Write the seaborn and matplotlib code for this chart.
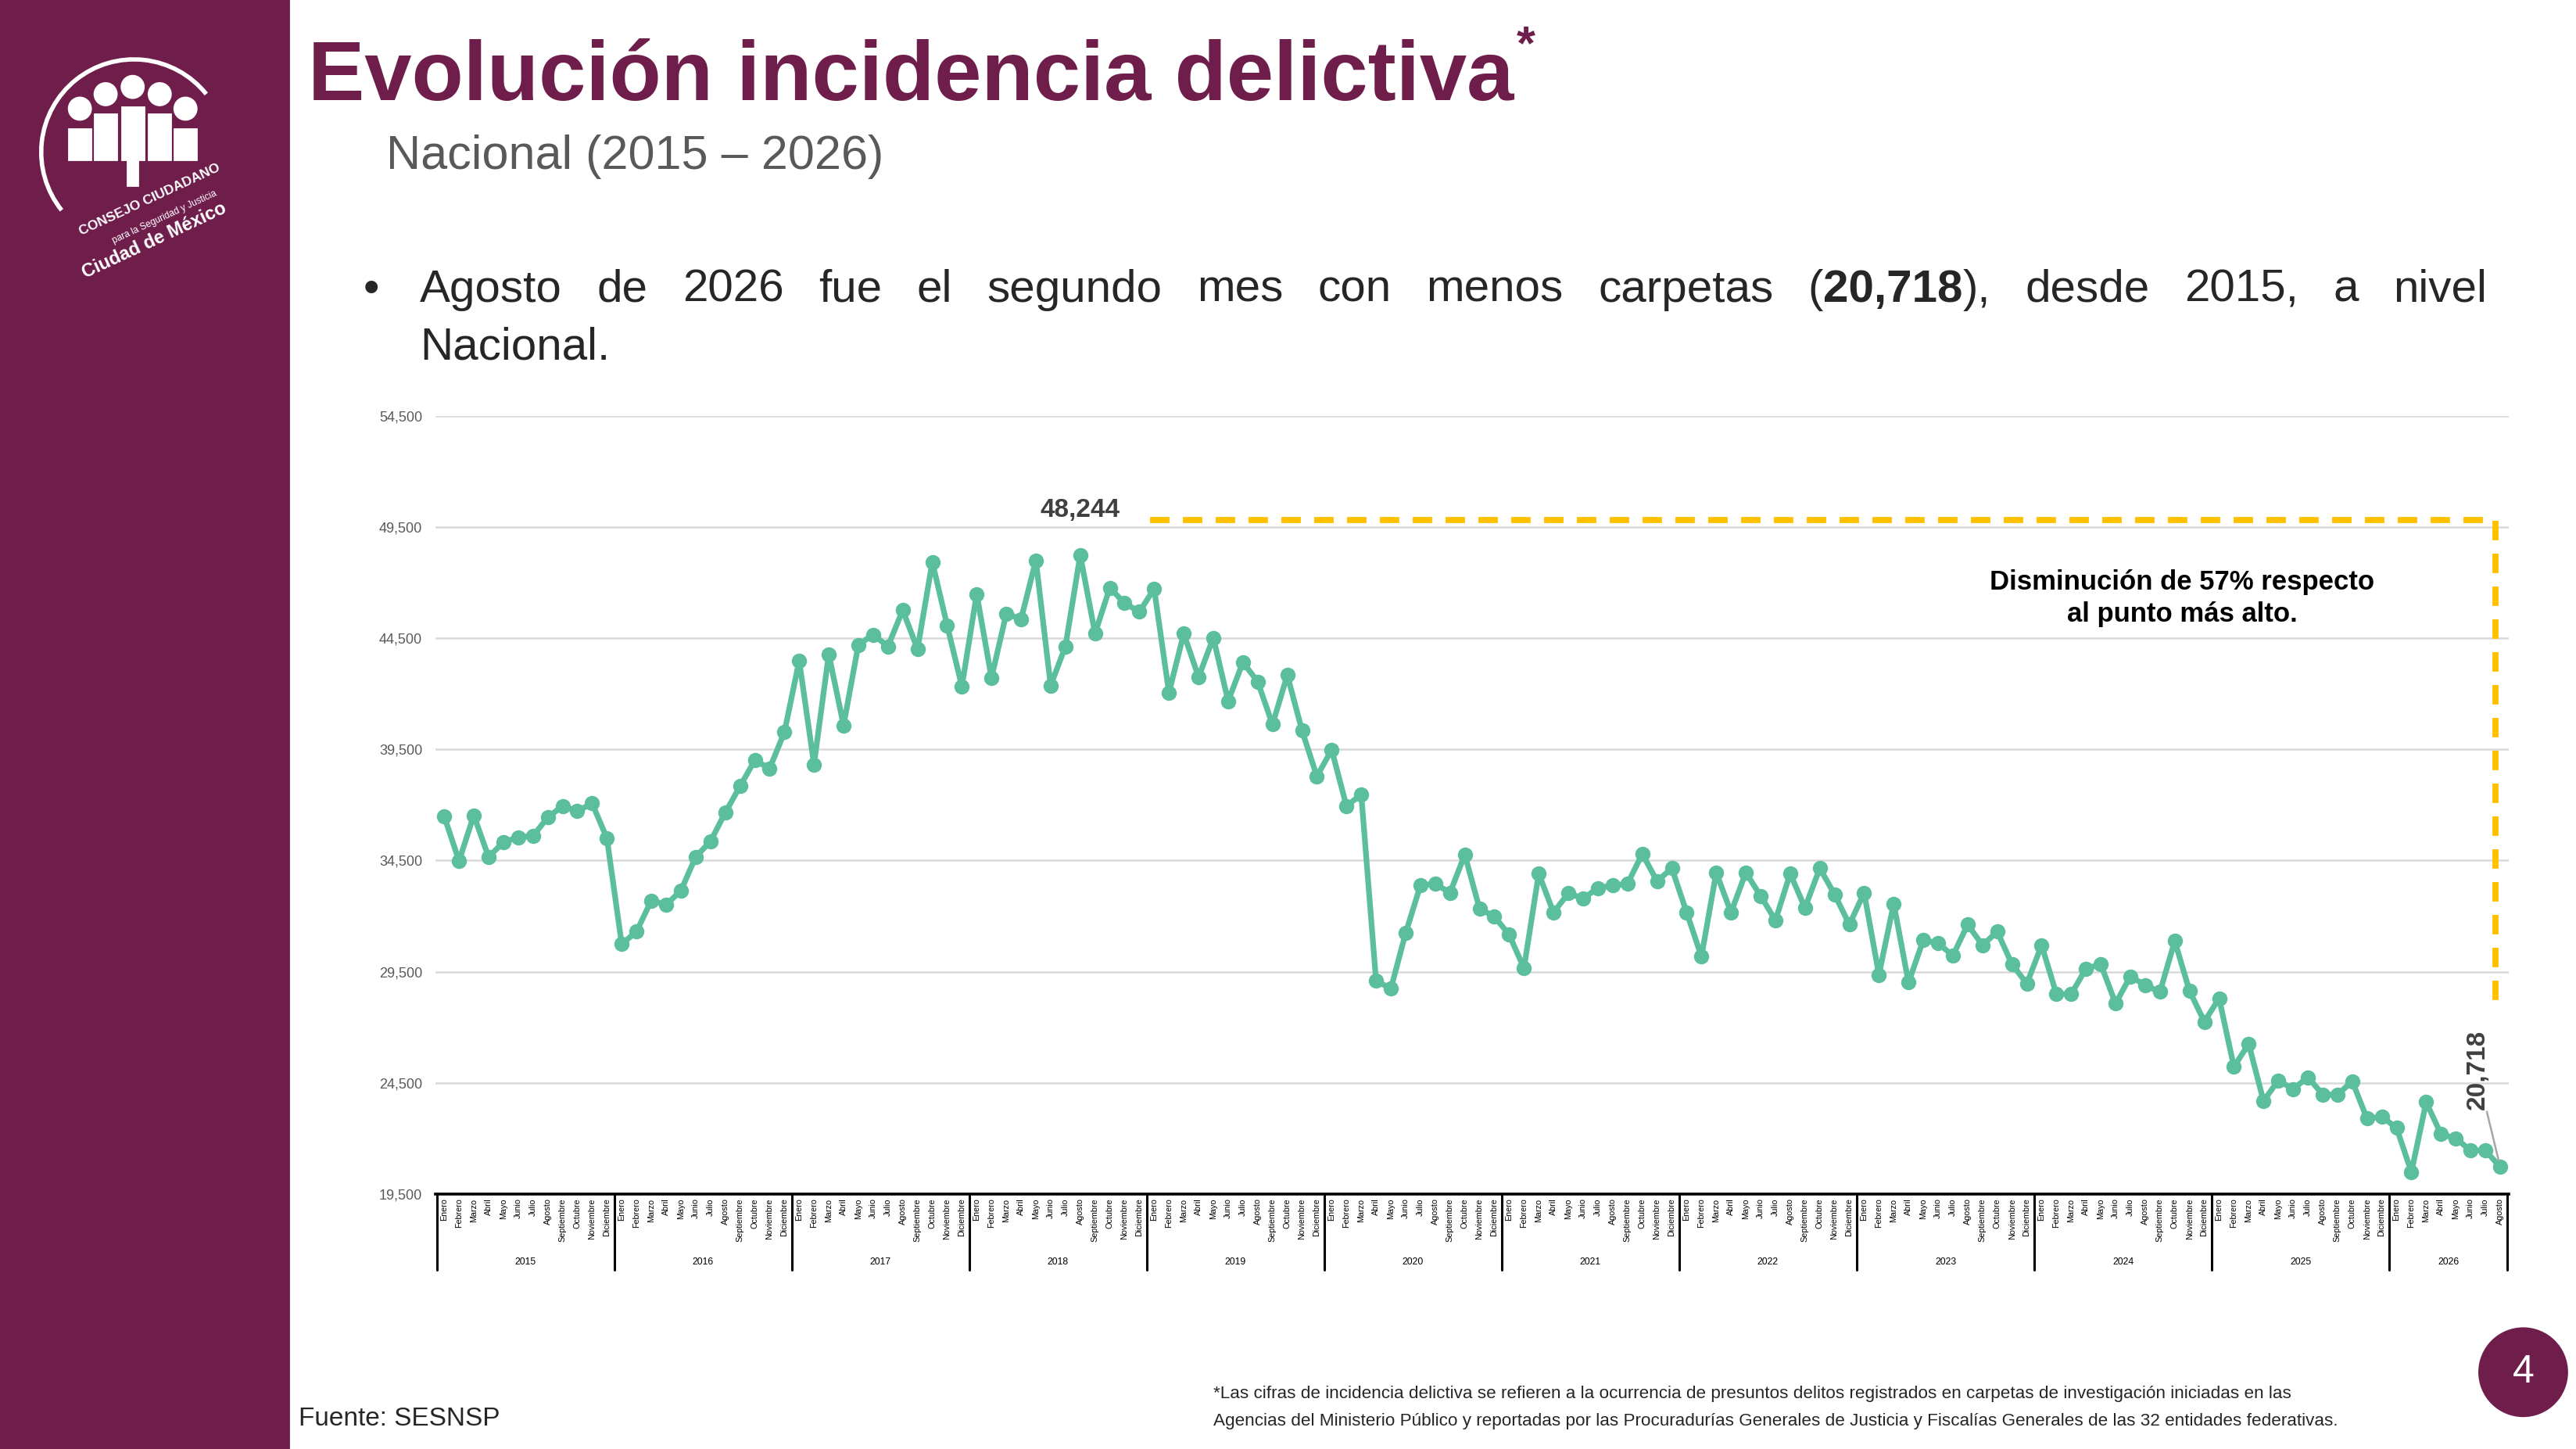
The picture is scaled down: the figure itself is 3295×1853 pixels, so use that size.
import numpy as np
import pandas as pd
import seaborn as sns
import matplotlib.pyplot as plt
from matplotlib.patches import Rectangle, Ellipse, Arc
import matplotlib.transforms as mtransforms

years = list(range(2015, 2027))
months = ["Enero", "Febrero", "Marzo", "Abril", "Mayo", "Junio", "Julio", "Agosto",
          "Septiembre", "Octubre", "Noviembre", "Diciembre"]

carpetas = [
    # 2015
    36490, 34480, 36530, 34660, 35320, 35550, 35600, 36440, 36950, 36720, 37070, 35500,
    # 2016
    30740, 31300, 32700, 32510, 33140, 34660, 35360, 36650, 37840, 39010, 38640, 40270,
    # 2017
    43490, 38820, 43780, 40580, 44200, 44660, 44130, 45760, 44010, 47930, 45080, 42330,
    # 2018
    46490, 42720, 45600, 45360, 48000, 42370, 44130, 48244, 44710, 46770, 46070, 45690,
    # 2019
    46720, 42050, 44710, 42750, 44520, 41670, 43420, 42540, 40620, 42840, 40340, 38280,
    # 2020
    39480, 36950, 37470, 29100, 28730, 31230, 33380, 33450, 33050, 34760, 32330, 31980,
    # 2021
    31160, 29660, 33910, 32160, 33030, 32790, 33260, 33380, 33450, 34800, 33570, 34150,
    # 2022
    32160, 30180, 33960, 32160, 33960, 32910, 31810, 33910, 32370, 34150, 32980, 31620,
    # 2023
    33050, 29360, 32560, 29010, 30920, 30780, 30220, 31620, 30690, 31300, 29830, 28960,
    # 2024
    30690, 28490, 28490, 29640, 29830, 28070, 29290, 28890, 28590, 30880, 28630, 27250,
    # 2025
    28300, 25220, 26250, 23680, 24610, 24220, 24750, 23980, 23960, 24570, 22890, 22980,
    # 2026
    22470, 20480, 23630, 22190, 22000, 21460, 21460, 20718,
]

n = len(carpetas)
df = pd.DataFrame({
    "idx": np.arange(n),
    "mes": [months[i % 12] for i in range(n)],
    "anio": [years[i // 12] for i in range(n)],
    "carpetas": carpetas,
})

PURPLE = "#6F1D4B"
GREEN = "#5BBE9C"
YELLOW = "#FFC000"
ASPECT = 16.475 / 9.265

sns.set_theme(style="white")
plt.rcParams['font.family'] = ['Liberation Sans', 'DejaVu Sans']

fig = plt.figure(figsize=(16.475, 9.265), dpi=200)
fig.patches.append(Rectangle((0, 0), 0.112, 1, transform=fig.transFigure, color=PURPLE, zorder=0))

ax = fig.add_axes([0.169, 0.176, 0.805, 0.537])
sns.lineplot(data=df, x="idx", y="carpetas", ax=ax, color=GREEN, lw=2.6,
             marker="o", markersize=7, markeredgewidth=0)

ax.set_ylim(19500, 54500)
ax.set_yticks(np.arange(19500, 54501, 5000))
ax.set_yticklabels([f"{v:,}" for v in range(19500, 54501, 5000)], fontsize=6.5, color="#595959")
ax.set_xlim(-0.6, n - 0.4)
ax.set_xticks(df["idx"])
ax.set_xticklabels(df["mes"], rotation=90, fontsize=3.9, color="black")
ax.tick_params(axis="x", length=0, pad=2)
ax.tick_params(axis="y", length=0, pad=6)
ax.grid(axis="y", color="#D9D9D9", lw=0.9)
ax.set_axisbelow(True)
for s in ["top", "right", "left"]:
    ax.spines[s].set_visible(False)
ax.spines["bottom"].set_color("black")
ax.spines["bottom"].set_linewidth(1.3)
ax.set_xlabel("")
ax.set_ylabel("")

# year separators and labels under the axis
trans = mtransforms.blended_transform_factory(ax.transData, ax.transAxes)
for k, yr in enumerate(years):
    start = k * 12 - 0.5
    end = min((k + 1) * 12, n) - 0.5
    ax.plot([start, start], [0, -0.098], transform=trans, color="black", lw=1.1, clip_on=False)
    ax.text((start + end) / 2, -0.088, str(yr), transform=trans, ha="center", va="center",
            fontsize=4.4, color="black")
ax.plot([n - 0.5, n - 0.5], [0, -0.098], transform=trans, color="black", lw=1.1, clip_on=False)

# highest point / last point annotations
peak_i = int(np.argmax(carpetas))
ax.text(peak_i, 49700, f"{carpetas[peak_i]:,}", ha="center", va="bottom", fontsize=12,
        fontweight="bold", color="#404040")
last_i = n - 1
ax.plot([last_i - 0.9, last_i - 0.1], [23200, 21000], color="#A6A6A6", lw=0.9)
ax.text(last_i - 1.5, 23300, f"{carpetas[last_i]:,}", rotation=90, ha="center", va="bottom",
        fontsize=12, fontweight="bold", color="#404040")

# dashed bracket from the peak level to the latest month
ax.plot([47.7, last_i - 0.3, last_i - 0.3], [49800, 49800, 28000], color=YELLOW, lw=2.8,
        ls=(0, (3.2, 2.2)), clip_on=False)
ax.text(117.5, 46300, "Disminución de 57% respecto\nal punto más alto.", ha="center", va="center",
        fontsize=12.5, fontweight="bold", color="black", linespacing=1.3)

fig.canvas.draw()
r = fig.canvas.get_renderer()
inv = fig.transFigure.inverted()

def right_edge(t):
    return inv.transform(t.get_window_extent(r))[1, 0]

# header
title = fig.text(0.1195, 0.946, "Evolución incidencia delictiva", fontsize=39, fontweight="bold",
                 color=PURPLE, va="center", ha="left")
fig.text(right_edge(title) + 0.001, 0.968, "*", fontsize=22, fontweight="bold", color=PURPLE,
         va="center")
fig.text(0.150, 0.892, "Nacional (2015 – 2026)", fontsize=22, color="#595959", va="center")

# justified bullet line with bold number
fig.text(0.141, 0.800, "•", fontsize=21, va="center")
y1 = 0.800
words = [("Agosto", "normal"), ("de", "normal"), ("2026", "normal"), ("fue", "normal"),
         ("el", "normal"), ("segundo", "normal"), ("mes", "normal"), ("con", "normal"),
         ("menos", "normal"), ("carpetas", "normal"), ("(", "normal"), ("20,718", "bold"),
         ("),", "normal"), ("desde", "normal"), ("2015,", "normal"), ("a", "normal"),
         ("nivel", "normal")]
groups = [[0], [1], [2], [3], [4], [5], [6], [7], [8], [9], [10, 11, 12], [13], [14], [15], [16]]
x_left, x_right = 0.163, 0.9655
widths = []
for g in groups:
    w = 0
    for i in g:
        t = fig.text(0, 0, words[i][0], fontsize=21, fontweight=words[i][1])
        bb = inv.transform(t.get_window_extent(r))
        w += bb[1, 0] - bb[0, 0]
        t.remove()
    widths.append(w)
gap = (x_right - x_left - sum(widths)) / (len(groups) - 1)
x = x_left
for g, w in zip(groups, widths):
    xx = x
    for i in g:
        t = fig.text(xx, y1, words[i][0], fontsize=21, fontweight=words[i][1], va="center")
        xx = right_edge(t)
    x += w + gap
fig.text(0.163, 0.760, "Nacional.", fontsize=21, va="center")

# footer
fig.text(0.116, 0.021, "Fuente: SESNSP", fontsize=12, va="center")
fig.text(0.471, 0.038, "*Las cifras de incidencia delictiva se refieren a la ocurrencia de presuntos delitos "
         "registrados en carpetas de investigación iniciadas en las", fontsize=8.1, va="center")
fig.text(0.471, 0.019, "Agencias del Ministerio Público y reportadas por las Procuradurías Generales de "
         "Justicia y Fiscalías Generales de las 32 entidades federativas.", fontsize=8.1, va="center")
fig.patches.append(Ellipse((0.9795, 0.053), 0.034, 0.034 * ASPECT, transform=fig.transFigure,
                           color=PURPLE))
fig.text(0.9795, 0.053, "4", fontsize=18, color="white", ha="center", va="center")

# simple logo
fig.patches.append(Arc((0.052, 0.895), 0.072, 0.072 * ASPECT, theta1=55, theta2=235,
                       transform=fig.transFigure, color="white", lw=2))
heads = [(0.031, 0.925), (0.041, 0.935), (0.0515, 0.94), (0.062, 0.935), (0.072, 0.925)]
for hx, hy in heads:
    fig.patches.append(Ellipse((hx, hy), 0.0085, 0.0085 * ASPECT, transform=fig.transFigure,
                               color="white"))
    fig.patches.append(Rectangle((hx - 0.0042, 0.89), 0.0084, hy - 0.90 - 0.004,
                                 transform=fig.transFigure, color="white"))
fig.patches.append(Rectangle((0.0495, 0.872), 0.004, 0.025, transform=fig.transFigure, color="white"))
fig.text(0.058, 0.862, "CONSEJO CIUDADANO", fontsize=6.3, fontweight="bold", color="white",
         ha="center", va="center", rotation=25)
fig.text(0.064, 0.850, "para la Seguridad y Justicia", fontsize=4.3, color="white",
         ha="center", va="center", rotation=25)
fig.text(0.060, 0.834, "Ciudad de México", fontsize=8.5, fontweight="bold", color="white",
         ha="center", va="center", rotation=25)

fig.savefig("out.png", dpi=200, facecolor="white")
